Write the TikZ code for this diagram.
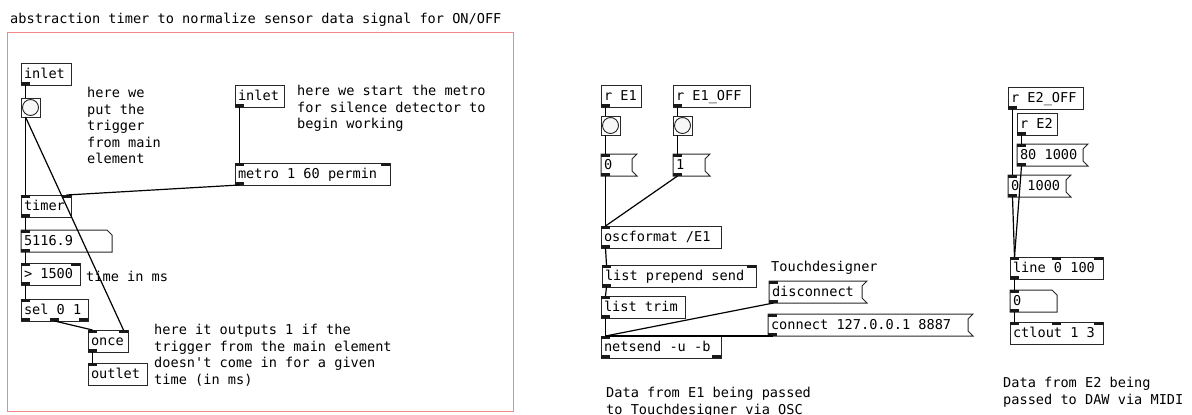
\documentclass[tikz,border=0pt]{standalone}
\usepackage{fontspec}
\setmonofont{DejaVu Sans Mono}
\usetikzlibrary{positioning, calc}

\newcommand{\pdfont}{\fontsize{13.6}{16.5}\selectfont\ttfamily}
\definecolor{gopred}{RGB}{243,135,135}
\definecolor{pdline}{RGB}{40,40,40}

\begin{document}
\begin{tikzpicture}[
    x=1pt, y=-1pt,
    obj/.style={draw=pdline, line width=1pt, anchor=north west, minimum height=22pt, inner xsep=3pt, inner ysep=0pt, outer sep=0pt, text height=10pt, text depth=2pt, font=\pdfont,
        execute at begin node={\hbox to \dimexpr#1pt-6pt\relax\bgroup}, execute at end node={\hfil\egroup}},
    msg/.style={obj=#1, draw=none},
    atom/.style={obj=#1, draw=none},
    bng/.style={draw=pdline, line width=1pt, anchor=north west, minimum size=19pt, inner sep=0pt, outer sep=0pt, path picture={\draw[pdline, fill=black!3, line width=0.9pt] (path picture bounding box.center) circle (8pt);}},
    note/.style={anchor=north west, inner sep=0pt, align=left, font=\pdfont},
    boxline/.style={draw=pdline, line width=1pt},
    iolet/.style={fill=black!90},
    wire/.style={draw, line width=1.2pt}
]
\useasboundingbox (0,0) rectangle (1192,415);
\fill[white] (0,0) rectangle (1192,415);

% abstraction: silence timer
\node [note] (title) at (10,13) {abstraction timer to normalize sensor data signal for ON/OFF};
\draw [gopred, line width=1pt] (7.5,32) rectangle (513,411);

\node [obj=50] (inleta) at (21,63) {inlet};
\node [bng] (bnga) at (21,98) {};
\node [obj=50] (timer) at (21,195) {timer};
\node [atom=91] (numtimer) at (21,230) {5116.9};
\node [obj=59] (gt) at (21,263) {> 1500};
\node [obj=67] (sel) at (21,299) {sel 0 1};
\node [obj=40] (once) at (88,330) {once};
\node [obj=59] (outl) at (88,363) {outlet};
\node [obj=49] (inletb) at (235,85) {inlet};
\node [obj=155] (metro) at (235,163) {metro 1 60 permin};

\node [note] (notetrig) at (87,87) {here we\\put the\\trigger\\from main\\element};
\node [note] (notemetro) at (297,85) {here we start the metro\\for silence detector to\\begin working};
\node [note] (notems) at (86,271) {time in ms};
\node [note] (noteout) at (154,324) {here it outputs 1 if the\\trigger from the main element\\doesn't come in for a given\\time (in ms)};

% E1 -> OSC
\node [obj=40] (re1) at (601,85) {r E1};
\node [obj=77] (re1off) at (673,85) {r E1\_OFF};
\node [bng] (bngb) at (601,116) {};
\node [bng] (bngc) at (673,116) {};
\node [msg=31] (msgzero) at (601,154) {0};
\node [msg=32] (msgone) at (673,154) {1};
\node [obj=120] (osc) at (601,226) {oscformat /E1};
\node [obj=154] (lps) at (602,265) {list prepend send};
\node [obj=84] (ltrim) at (601,296) {list trim};
\node [obj=120] (netsend) at (601,336) {netsend -u -b};
\node [note] (notetd) at (771,261) {Touchdesigner};
\node [msg=93] (msgdisc) at (769,281) {disconnect};
\node [msg=200] (msgconn) at (768,314) {connect 127.0.0.1 8887};
\node [note] (captione1) at (606,387) {Data from E1 being passed\\to Touchdesigner via OSC};

% E2 -> MIDI
\node [obj=75] (re2off) at (1008,87) {r E2\_OFF};
\node [obj=40] (re2) at (1017,113) {r E2};
\node [msg=66] (msgeighty) at (1017,144) {80 1000};
\node [msg=58] (msgzerok) at (1008,175) {0 1000};
\node [obj=93] (line) at (1010,257) {line 0 100};
\node [atom=47] (numline) at (1010,290) {0};
\node [obj=93] (ctl) at (1010,322) {ctlout 1 3};
\node [note] (captione2) at (1003,377) {Data from E2 being\\passed to DAW via MIDI};

% message and number box outlines
\foreach \m in {msgzero, msgone, msgdisc, msgconn, msgeighty, msgzerok}
  \draw [boxline] (\m.north west) -- ([xshift=5pt]\m.north east) -- ([yshift=-5pt]\m.north east) -- ([yshift=5pt]\m.south east) -- ([xshift=5pt]\m.south east) -- (\m.south west) -- cycle;
\foreach \m in {numtimer, numline}
  \draw [boxline] (\m.north west) -- ([xshift=-5pt]\m.north east) -- ([yshift=-5pt]\m.north east) -- (\m.south east) -- (\m.south west) -- cycle;

% iolets
\foreach \n in {timer, numtimer, gt, sel, once, outl, metro, msgzero, msgone, osc, lps, ltrim, netsend, msgdisc, msgconn, msgeighty, msgzerok, line, numline, ctl}
  \fill [iolet] (\n.north west) rectangle ++(9,3);
\foreach \n in {timer, gt, once, metro, lps, line, ctl}
  \fill [iolet] (\n.north east) rectangle ++(-9,3);
\foreach \n in {line, ctl}
  \fill [iolet] ([xshift=-4.5pt]\n.north) rectangle ++(9,3);
\foreach \n in {inleta, timer, numtimer, gt, sel, once, inletb, metro, re1, re1off, msgzero, msgone, osc, lps, ltrim, netsend, msgdisc, msgconn, re2off, re2, msgeighty, msgzerok, line, numline}
  \fill [iolet] (\n.south west) rectangle ++(9,-3);
\foreach \n in {sel, netsend}
  \fill [iolet] (\n.south east) rectangle ++(-9,-3);
\fill [iolet] ([xshift=-4.5pt]sel.south) rectangle ++(9,-3);

% connections
\path [wire] ([xshift=4.5pt]inleta.south west) -- ([xshift=4.5pt]bnga.north west);
\path [wire] ([xshift=4.5pt]bnga.south west) -- ([xshift=4.5pt]timer.north west);
\path [wire] ([xshift=4.5pt]bnga.south west) -- ([xshift=-4.5pt]once.north east);
\path [wire] ([xshift=4.5pt]inletb.south west) -- ([xshift=4.5pt]metro.north west);
\path [wire] ([xshift=4.5pt]metro.south west) -- ([xshift=-4.5pt]timer.north east);
\path [wire] ([xshift=4.5pt]timer.south west) -- ([xshift=4.5pt]numtimer.north west);
\path [wire] ([xshift=4.5pt]numtimer.south west) -- ([xshift=4.5pt]gt.north west);
\path [wire] ([xshift=4.5pt]gt.south west) -- ([xshift=4.5pt]sel.north west);
\path [wire] (sel.south) -- ([xshift=4.5pt]once.north west);
\path [wire] ([xshift=4.5pt]once.south west) -- ([xshift=4.5pt]outl.north west);

\path [wire] ([xshift=4.5pt]re1.south west) -- ([xshift=4.5pt]bngb.north west);
\path [wire] ([xshift=4.5pt]bngb.south west) -- ([xshift=4.5pt]msgzero.north west);
\path [wire] ([xshift=4.5pt]msgzero.south west) -- ([xshift=4.5pt]osc.north west);
\path [wire] ([xshift=4.5pt]re1off.south west) -- ([xshift=4.5pt]bngc.north west);
\path [wire] ([xshift=4.5pt]bngc.south west) -- ([xshift=4.5pt]msgone.north west);
\path [wire] ([xshift=4.5pt]msgone.south west) -- ([xshift=4.5pt]osc.north west);
\path [wire] ([xshift=4.5pt]osc.south west) -- ([xshift=4.5pt]lps.north west);
\path [wire] ([xshift=4.5pt]lps.south west) -- ([xshift=4.5pt]ltrim.north west);
\path [wire] ([xshift=4.5pt]ltrim.south west) -- ([xshift=4.5pt]netsend.north west);
\path [wire] ([xshift=4.5pt]msgdisc.south west) -- ([xshift=4.5pt]netsend.north west);
\path [wire] ([xshift=4.5pt]msgconn.south west) -- ([xshift=4.5pt]netsend.north west);

\path [wire] ([xshift=4.5pt]re2off.south west) -- ([xshift=4.5pt]msgzerok.north west);
\path [wire] ([xshift=4.5pt]re2.south west) -- ([xshift=4.5pt]msgeighty.north west);
\path [wire] ([xshift=4.5pt]msgeighty.south west) -- ([xshift=4.5pt]line.north west);
\path [wire] ([xshift=4.5pt]msgzerok.south west) -- ([xshift=4.5pt]line.north west);
\path [wire] ([xshift=4.5pt]line.south west) -- ([xshift=4.5pt]numline.north west);
\path [wire] ([xshift=4.5pt]numline.south west) -- ([xshift=4.5pt]ctl.north west);

\end{tikzpicture}
\end{document}
